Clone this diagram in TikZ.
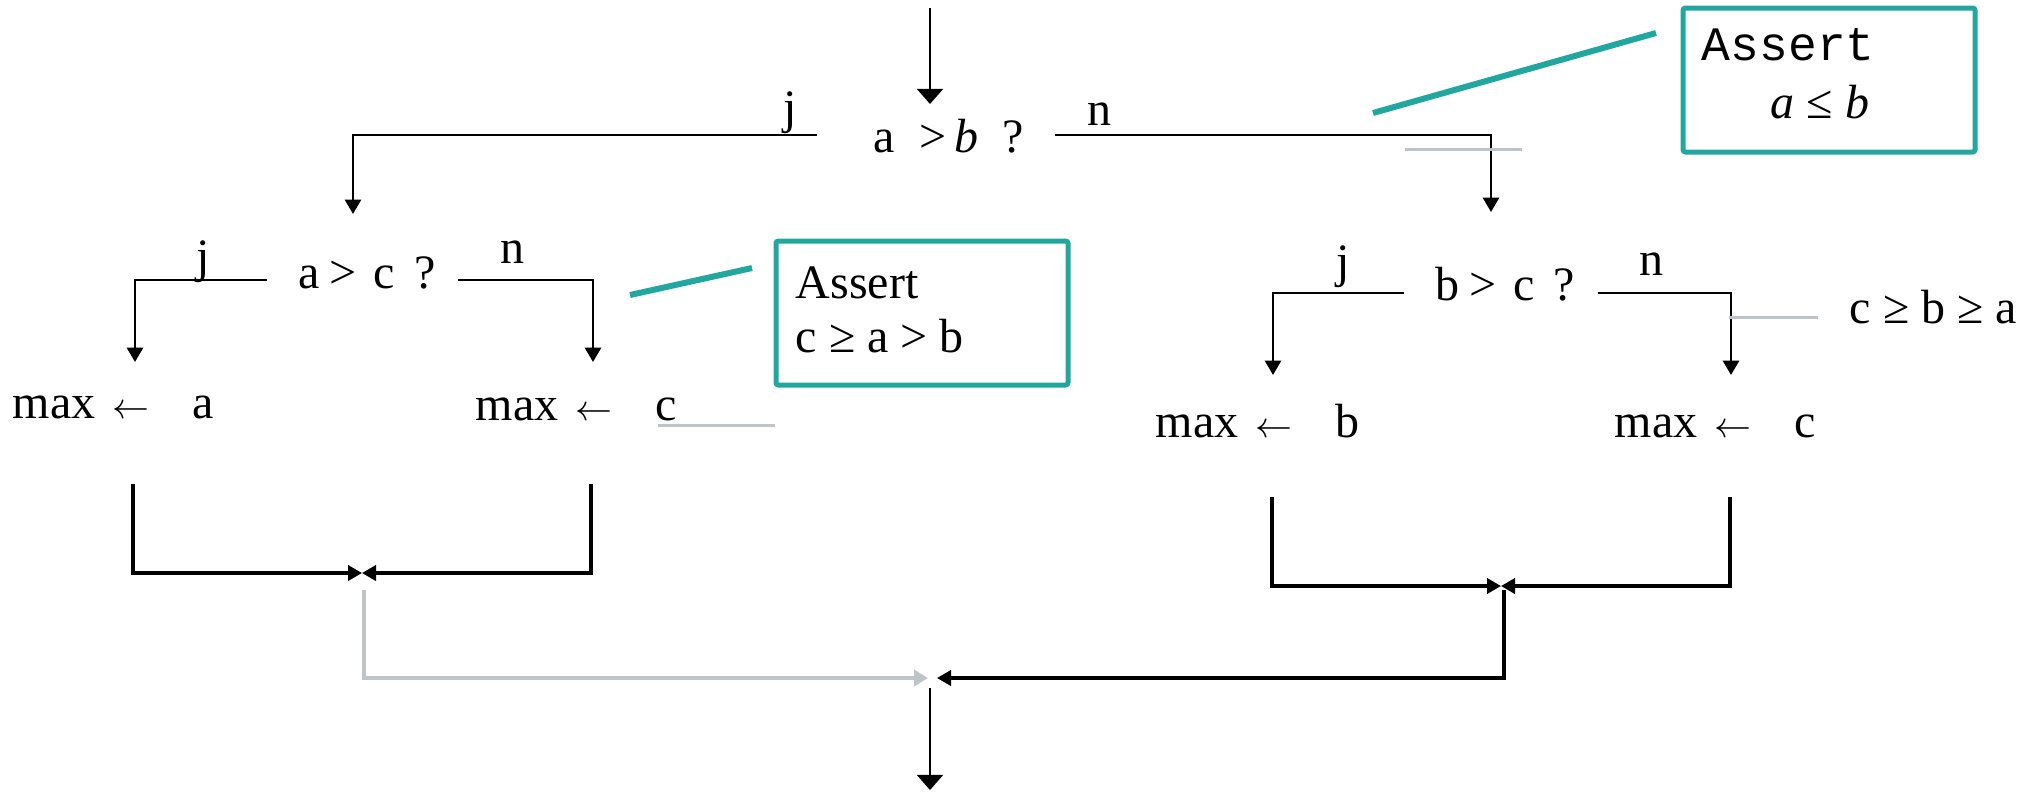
\documentclass[tikz,border=0pt]{standalone}
\usepackage{fontspec}
\setmainfont{Liberation Serif}
\setmonofont{Liberation Mono}
\usetikzlibrary{arrows.meta,positioning}
\definecolor{assertteal}{HTML}{22A6A0}
\definecolor{guidegray}{HTML}{BFC4C8}
\newcommand{\assignarrow}{{\fontsize{9.5pt}{9.5pt}\selectfont$\leftarrow$}}

\begin{document}
\begin{tikzpicture}[x=0.25pt,y=-0.25pt,
    font=\fontsize{12pt}{14.4pt}\selectfont,
    txt/.style={inner sep=0pt,anchor=base west},
    flow/.style={line width=0.7pt,-{Triangle[length=3.6pt,width=4pt]}},
    mainflow/.style={line width=0.7pt,-{Triangle[length=3.8pt,width=6.5pt]}},
    merge/.style={line width=0.8pt,-{Triangle[length=3.5pt,width=3.8pt]}},
    ghost/.style={draw=guidegray,line width=1pt,-{Triangle[length=3.5pt,width=4pt]}},
    note/.style={draw=assertteal,line width=1.25pt,rounded corners=0.6pt,minimum width=73pt,minimum height=36pt},
    pin/.style={draw=assertteal,line width=1.5pt},
    guide/.style={draw=guidegray,line width=0.75pt}]
\useasboundingbox (0,0) rectangle (2036,795);

% first test
\coordinate (in) at (930,8);
\coordinate (qab-in) at (930,104);
\node[txt] (qab) at (873,152) {a~~>\,\textit{b}~~?};
\coordinate (qab-j) at (817,135);
\coordinate (qab-n) at (1055,135);
\node[txt] (lbl-j1) at (783,123) {j};
\node[txt] (lbl-n1) at (1087,125) {n};
\coordinate (qac-in) at (353,214);
\coordinate (qbc-in) at (1491,212);
\draw[mainflow] (in) -- (qab-in);
\draw[flow] (qab-j) -| (qac-in);
\draw[flow] (qab-n) -| (qbc-in);

\node[note] (asrt1) at (1829,80) {};
\node[txt,font=\fontsize{12pt}{14.4pt}\selectfont\ttfamily] (asrt1-t) at (1701,60) {Assert};
\node[txt] (asrt1-m) at (1770,118) {\textit{a} ≤ \textit{b}};
\coordinate (pin1-a) at (1373,113);
\coordinate (pin1-b) at (1656,33);
\draw[pin] (pin1-a) -- (pin1-b);
\coordinate (gd1-a) at (1405,149);
\coordinate (gd1-b) at (1522,149);
\draw[guide] (gd1-a) -- (gd1-b);

% left branch: a > c
\node[txt] (qac) at (298,288) {a\hspace{.2em}>\hspace{.35em}c\hspace{.4em}?};
\coordinate (qac-j) at (267,280);
\coordinate (qac-n) at (458,280);
\node[txt] (lbl-j2) at (196,272) {j};
\node[txt] (lbl-n2) at (500,263) {n};
\coordinate (maxa-in) at (135,362);
\coordinate (maxc1-in) at (593,362);
\draw[flow] (qac-j) -| (maxa-in);
\draw[flow] (qac-n) -| (maxc1-in);
\node[txt] (maxa) at (12,418) {max\hspace{.35em}\assignarrow\hspace{.9em}a};
\node[txt] (maxc1) at (475,420) {max\hspace{.35em}\assignarrow\hspace{.9em}c};

\node[note] (asrt2) at (922,313) {};
\node[txt] (asrt2-t) at (795,298) {Assert};
\node[txt] (asrt2-m) at (795,352) {c ≥ a > b};
\coordinate (pin2-a) at (630,295);
\coordinate (pin2-b) at (752,268);
\draw[pin] (pin2-a) -- (pin2-b);
\coordinate (gd2-a) at (658,425);
\coordinate (gd2-b) at (775,425);
\draw[guide] (gd2-a) -- (gd2-b);

% right branch: b > c
\node[txt] (qbc) at (1435,300) {b\hspace{.2em}>\hspace{.35em}c\hspace{.4em}?};
\coordinate (qbc-j) at (1404,293);
\coordinate (qbc-n) at (1598,293);
\node[txt] (lbl-j3) at (1336,277) {j};
\node[txt] (lbl-n3) at (1639,275) {n};
\coordinate (maxb-in) at (1273,375);
\coordinate (maxc2-in) at (1731,375);
\draw[flow] (qbc-j) -| (maxb-in);
\draw[flow] (qbc-n) -| (maxc2-in);
\node[txt] (maxb) at (1155,437) {max\hspace{.35em}\assignarrow\hspace{.9em}b};
\node[txt] (maxc2) at (1614,437) {max\hspace{.35em}\assignarrow\hspace{.9em}c};
\coordinate (gd3-a) at (1729,317);
\coordinate (gd3-b) at (1818,317);
\draw[guide] (gd3-a) -- (gd3-b);
\node[txt] (rel3) at (1849,323) {c ≥ b ≥ a};

% merging
\coordinate (ml-a) at (133,484);
\coordinate (ml-c) at (591,484);
\coordinate (ml) at (362,573);
\draw[merge] (ml-a) |- (ml);
\draw[merge] (ml-c) |- (ml);
\coordinate (mr-b) at (1272,497);
\coordinate (mr-c) at (1730,497);
\coordinate (mr) at (1501,586);
\draw[merge] (mr-b) |- (mr);
\draw[merge] (mr-c) |- (mr);

\coordinate (ml-out) at (364,590);
\coordinate (mr-out) at (1504,590);
\coordinate (join-w) at (928,678);
\coordinate (join-e) at (937,678);
\draw[ghost] (ml-out) |- (join-w);
\draw[merge] (mr-out) |- (join-e);
\coordinate (out-top) at (930,688);
\coordinate (out) at (930,790);
\draw[mainflow] (out-top) -- (out);
\end{tikzpicture}
\end{document}
